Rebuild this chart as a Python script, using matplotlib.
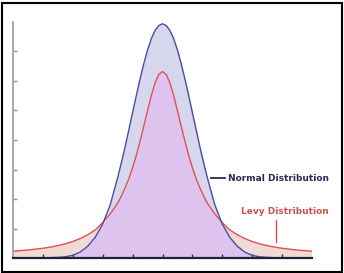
import matplotlib
matplotlib.use("Agg")
import matplotlib.pyplot as plt
import numpy as np
from matplotlib.patches import Rectangle

# Data
x_vals = [-5.0, -4.75, -4.5, -4.25, -4.0, -3.75, -3.5, -3.25, -3.0, -2.75, -2.5, -2.25,
          -2.0, -1.75, -1.5, -1.375, -1.25, -1.125, -1.0, -0.875, -0.75, -0.625,
          -0.5, -0.375, -0.25, -0.125, 0.0,
          0.125, 0.25, 0.375, 0.5, 0.625, 0.75, 0.875, 1.0, 1.125, 1.25, 1.375,
          1.5, 1.75, 2.0, 2.25, 2.5, 2.75,
          3.0, 3.25, 3.5, 3.75, 4.0, 4.25, 4.5, 4.75, 5.0]
normal_vals = [0.0, 0.0, 0.0, 0.0, 0.0, 0.01, 0.02, 0.04, 0.09, 0.2, 0.4, 0.7,
               1.15, 1.8, 2.72, 3.23, 3.77, 4.35, 4.93, 5.51, 6.07, 6.59,
               7.05, 7.43, 7.71, 7.88, 7.94,
               7.88, 7.71, 7.43, 7.05, 6.59, 6.07, 5.51, 4.93, 4.35, 3.77, 3.23,
               2.72, 1.8, 1.15, 0.7, 0.4, 0.2,
               0.09, 0.04, 0.02, 0.01, 0.0, 0.0, 0.0, 0.0, 0.0]
levy_vals = [0.23, 0.25, 0.27, 0.30, 0.33, 0.37, 0.42, 0.48, 0.56, 0.66, 0.79, 0.95,
             1.20, 1.49, 1.86, 2.10, 2.38, 2.69, 3.06, 3.48, 3.96, 4.47,
             4.99, 5.50, 5.93, 6.22, 6.32,
             6.22, 5.93, 5.50, 4.99, 4.47, 3.96, 3.48, 3.06, 2.69, 2.38, 2.10,
             1.86, 1.49, 1.20, 0.95, 0.79, 0.66,
             0.56, 0.48, 0.42, 0.37, 0.33, 0.30, 0.27, 0.25, 0.23]
x_ticks = [-4, -3, -2, -1, 0, 1, 2, 3, 4]
y_ticks = [1, 2, 3, 4, 5, 6, 7]
labels = ["Normal Distribution", "Levy Distribution"]

x = np.array(x_vals)
n = np.array(normal_vals)
l = np.array(levy_vals)

fig = plt.figure(figsize=(3.44, 2.73), dpi=100)
ax = fig.add_axes([13/344, 15/273, 299/344, 236/273])

low = np.minimum(n, l)
ax.fill_between(x, 0, low, color="#dfc3ef", lw=0)
ax.fill_between(x, l, n, where=n >= l, interpolate=True, color="#d6d6ec", lw=0)
ax.fill_between(x, n, l, where=l >= n, interpolate=True, color="#efdad6", lw=0)
ax.plot(x, l, color="#e05050", lw=1.0)
ax.plot(x, n, color="#4a4aa8", lw=1.0)

ax.set_xlim(-5, 5)
ax.set_ylim(0, 8)
ax.set_xticks(x_ticks)
ax.set_yticks(y_ticks)
ax.set_xticklabels([])
ax.set_yticklabels([])
ax.tick_params(axis="x", direction="in", length=3, color="#303040", width=1)
ax.tick_params(axis="y", direction="in", length=3, color="#909090", width=1)
for s in ["top", "right"]:
    ax.spines[s].set_visible(False)
ax.spines["left"].set_color("#a0a0a0")
ax.spines["left"].set_linewidth(1.3)
ax.spines["bottom"].set_color("#202038")
ax.spines["bottom"].set_linewidth(1.6)

# Normal label with dash
ax.plot([1.63, 2.1], [2.7, 2.7], color="#2a2a50", lw=1.3, clip_on=False)
ax.text(2.2, 2.7, labels[0], color="#2a2a58", fontsize=6.5, fontweight="bold",
        va="center", ha="left", clip_on=False)
# Levy label with leader
ax.text(2.63, 1.58, labels[1], color="#d05050", fontsize=6.5, fontweight="bold",
        va="center", ha="left", clip_on=False)
ax.plot([3.79, 3.79], [1.3, 0.55], color="#d05050", lw=1.0, clip_on=False)

fig.patches.append(Rectangle((1.5/344, 1.5/273), 340/344, 269/273,
                             transform=fig.transFigure, fill=False,
                             ec="black", lw=1.5))

fig.savefig("out.png", dpi=100)
